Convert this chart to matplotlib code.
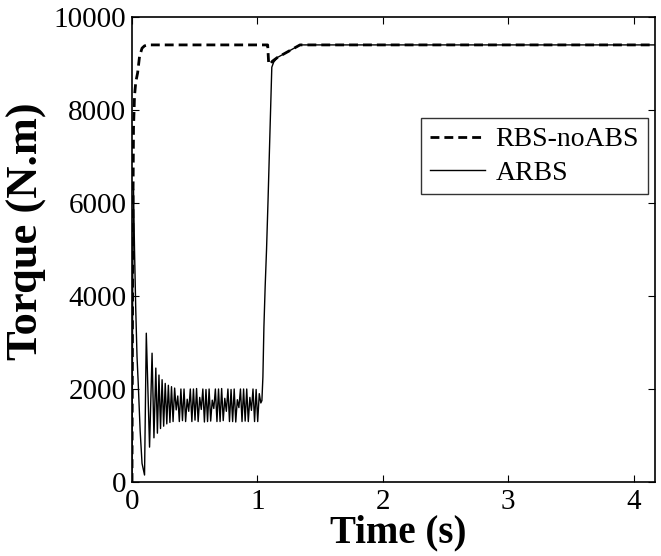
import numpy as np
import matplotlib
matplotlib.use("Agg")
import matplotlib.pyplot as plt

plt.rcParams['font.family'] = ['Liberation Serif', 'DejaVu Serif']

# RBS-noABS (dashed) - time (s), torque (N.m)
rbs_t = [0.0, 0.004, 0.008, 0.012, 0.02, 0.03, 0.045, 0.06, 0.08, 0.10, 0.13,
         1.075, 1.082, 1.09, 1.10, 1.12, 1.16, 1.22, 1.28, 1.34, 4.17]
rbs_v = [0, 3500, 6000, 7600, 8300, 8600, 8800, 9150, 9330, 9380, 9400,
         9400, 9400, 9000, 8980, 9050, 9130, 9220, 9310, 9400, 9400]

# ARBS (solid) - initial transient
arbs_t0 = [0.0, 0.006, 0.012, 0.02, 0.03, 0.04, 0.05, 0.065, 0.08, 0.10, 0.114, 0.14, 0.16, 0.175]
arbs_v0 = [0, 4500, 6300, 5000, 3700, 2700, 2100, 1100, 400, 150, 3200, 750, 2770, 950]

# ARBS - chattering between ~1300 and ~2000, sampled every 0.0125 s from 0.19 s
arbs_osc = [2450, 1050, 2300, 1150, 2200, 1200, 2120, 1250, 2080, 1280,
            2050, 1300, 2020, 1550, 1850, 1300, 2000, 1320, 2000, 1300,
            1780, 1520, 2000, 1300, 2000, 1330, 2010, 1300, 1820, 1560,
            2000, 1290, 1990, 1300, 2000, 1310, 1760, 1580, 2000, 1300,
            2000, 1300, 2010, 1320, 1800, 1520, 2000, 1300, 1990, 1300,
            2000, 1290, 1770, 1600, 2000, 1300, 2000, 1310, 2000, 1300,
            1820, 1540, 2000, 1300, 1990, 1300, 1900, 1700]
osc_start, osc_step = 0.19, 0.0125

# ARBS - release and recovery
arbs_t1 = [1.036, 1.044, 1.052, 1.062, 1.073, 1.085, 1.10, 1.115, 1.13, 1.16, 1.22, 1.28, 1.34, 4.17]
arbs_v1 = [1750, 2260, 3330, 4200, 5000, 6060, 7500, 8920, 9030, 9130, 9220, 9310, 9400, 9400]

t_osc = osc_start + osc_step * np.arange(len(arbs_osc))
arbs_t = np.concatenate([arbs_t0, t_osc, arbs_t1])
arbs_v = np.concatenate([arbs_v0, arbs_osc, arbs_v1])

fig = plt.figure(figsize=(6.61, 5.56), dpi=100)
ax = fig.add_axes([0.1997, 0.1331, 0.791, 0.8363])

ax.plot(rbs_t, rbs_v, color='black', lw=2.0, dashes=(3.2, 1.8), label='RBS-noABS')
ax.plot(arbs_t, arbs_v, color='black', lw=1.0, label='ARBS')

ax.set_xlim(0, 4.17)
ax.set_ylim(0, 10000)
ax.set_xticks([0, 1, 2, 3, 4])
ax.set_yticks([0, 2000, 4000, 6000, 8000, 10000])
ax.tick_params(direction='in', top=True, right=True, length=5, width=0.8,
               labelsize=21, pad=4)
ax.tick_params(axis='x', pad=5)
for s in ax.spines.values():
    s.set_linewidth(1.2)

ax.set_xlabel('Time (s)', fontsize=28, fontweight='bold')
ax.set_ylabel('Torque (N.m)', fontsize=32, fontweight='bold')
ax.xaxis.set_label_coords(0.51, -0.07)
ax.yaxis.set_label_coords(-0.163, 0.54)

leg = ax.legend(loc='upper left', bbox_to_anchor=(0.5526, 0.7828), fontsize=20,
                frameon=True, fancybox=False, edgecolor='black',
                handlelength=2.0, borderpad=0.32, labelspacing=0.28,
                handletextpad=0.36, borderaxespad=0)
leg.get_frame().set_linewidth(1.0)

fig.savefig('out.png', dpi=100)
